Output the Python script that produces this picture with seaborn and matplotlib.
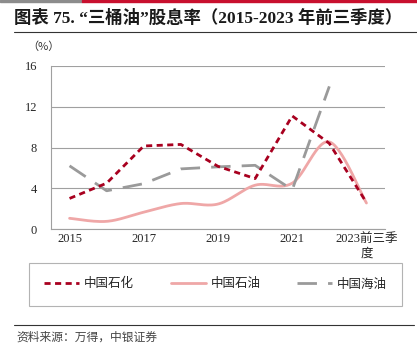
import numpy as np
import pandas as pd
import matplotlib
matplotlib.use("Agg")
import matplotlib.pyplot as plt
import seaborn as sns
from matplotlib.lines import Line2D

years = ["2015", "2016", "2017", "2018", "2019", "2020", "2021", "2022", "2023前三季\n度"]
sinopec = [3.0, 4.5, 8.15, 8.3, 6.15, 4.95, 11.1, 8.4, 2.6]
petrochina = [1.05, 0.75, 1.65, 2.5, 2.45, 4.3, 4.5, 8.55, 2.55]
cnooc = [6.2, 3.75, 4.45, 5.9, 6.1, 6.25, 3.85, 14.0]

RED = "#A8001F"
PINK = "#EFA7A7"
GREY = "#9A9A9A"
SERIF = ["Liberation Serif", "Noto Sans CJK SC"]


def smooth(xs, ys, n=30):
    # excel-like smoothed line (catmull-rom)
    xs = np.asarray(xs, float)
    ys = np.asarray(ys, float)
    px = np.concatenate([[xs[0]], xs, [xs[-1]]])
    py = np.concatenate([[ys[0]], ys, [ys[-1]]])
    out_x, out_y = [], []
    for i in range(1, len(px) - 2):
        t = np.linspace(0, 1, n)
        for p, out in ((px, out_x), (py, out_y)):
            p0, p1, p2, p3 = p[i - 1], p[i], p[i + 1], p[i + 2]
            c1 = p1 + (p2 - p0) / 6
            c2 = p2 - (p3 - p1) / 6
            out.extend((1 - t) ** 3 * p1 + 3 * (1 - t) ** 2 * t * c1 + 3 * (1 - t) * t ** 2 * c2 + t ** 3 * p2)
    return np.array(out_x), np.array(out_y)


sns.set_style("white")
plt.rcParams["font.family"] = SERIF

fig = plt.figure(figsize=(4.17, 3.55), dpi=100)
ax = fig.add_axes([51 / 417, 1 - 229 / 355, 334 / 417, 163 / 355])

pos = np.arange(len(years))
df_red = pd.DataFrame({"x": pos, "y": sinopec})
df_grey = pd.DataFrame({"x": pos[:len(cnooc)], "y": cnooc})
sx, sy = smooth(pos, petrochina)
df_pink = pd.DataFrame({"x": sx, "y": sy})

sns.lineplot(data=df_pink, x="x", y="y", ax=ax, color=PINK, lw=2, sort=False)
sns.lineplot(data=df_grey, x="x", y="y", ax=ax, color=GREY, lw=2, dashes=False)
ax.lines[-1].set_dashes([7, 4])
sns.lineplot(data=df_red, x="x", y="y", ax=ax, color=RED, lw=2)
ax.lines[-1].set_dashes([2.2, 1.6])

ax.set_xlim(-0.5, len(years) - 0.5)
ax.set_ylim(0, 16)
ax.set_yticks([0, 4, 8, 12, 16])
ax.set_xticks(pos[::2])
ax.set_xticklabels(years[::2], fontsize=9, linespacing=1.3)
ax.set_xticks(np.arange(-0.5, len(years)), minor=True)
ax.tick_params(axis="x", which="major", length=0, pad=3)
ax.tick_params(axis="x", which="minor", length=4, width=0.8, color="#808080", direction="out")
ax.tick_params(axis="y", length=0, pad=10, labelsize=9)
ax.set_xlabel("")
ax.set_ylabel("")
ax.grid(axis="y", color="#A0A0A0", lw=0.8)
ax.grid(axis="x", visible=False)
for s in ["top", "right"]:
    ax.spines[s].set_visible(False)
for s in ["left", "bottom"]:
    ax.spines[s].set_color("#A0A0A0")
    ax.spines[s].set_linewidth(0.8)

fig.text(43 / 417, 1 - 47 / 355, "（%）", fontsize=8, ha="center", va="center",
         family=["Noto Sans CJK SC"], color="#333333")

handles = [
    Line2D([], [], color=RED, lw=2, dashes=[2.2, 1.6]),
    Line2D([], [], color=PINK, lw=2),
    Line2D([], [], color=GREY, lw=2, dashes=[7, 4]),
]
leg = fig.legend(handles, ["中国石化", "中国石油", "中国海油"], ncol=3, loc="center",
                 bbox_to_anchor=(29 / 417, 1 - 308 / 355, 373 / 417, 48 / 355),
                 mode="expand", frameon=True, fancybox=False, edgecolor="#A0A0A0",
                 handlelength=2.8, handletextpad=0.4, borderpad=1.2, borderaxespad=0,
                 prop={"family": ["Noto Sans CJK SC"], "size": 9})
leg.get_frame().set_linewidth(0.8)

# header bar, title, rules, source
fig.add_artist(plt.Rectangle((0, 1 - 2 / 355), 82 / 417, 2 / 355, color="#8C8C8C", transform=fig.transFigure))
fig.add_artist(plt.Rectangle((82 / 417, 1 - 2 / 355), 335 / 417, 2 / 355, color="#C8102E", transform=fig.transFigure))
fig.text(14 / 417, 1 - 18 / 355, "图表 75. “三桶油”股息率（2015-2023 年前三季度）", fontsize=12.5,
         weight="bold", ha="left", va="center", family=SERIF, color="#1a1a1a")
fig.add_artist(Line2D([14 / 417, 1], [1 - 32 / 355] * 2, color="#333333", lw=0.8, transform=fig.transFigure))
fig.add_artist(Line2D([14 / 417, 414 / 417], [1 - 325 / 355] * 2, color="#333333", lw=0.8, transform=fig.transFigure))
fig.text(16 / 417, 1 - 337 / 355, "资料来源：万得，中银证券", fontsize=8.5, ha="left", va="center",
         family=["Noto Sans CJK SC"], color="#444444")

fig.savefig("out.png", dpi=100)
